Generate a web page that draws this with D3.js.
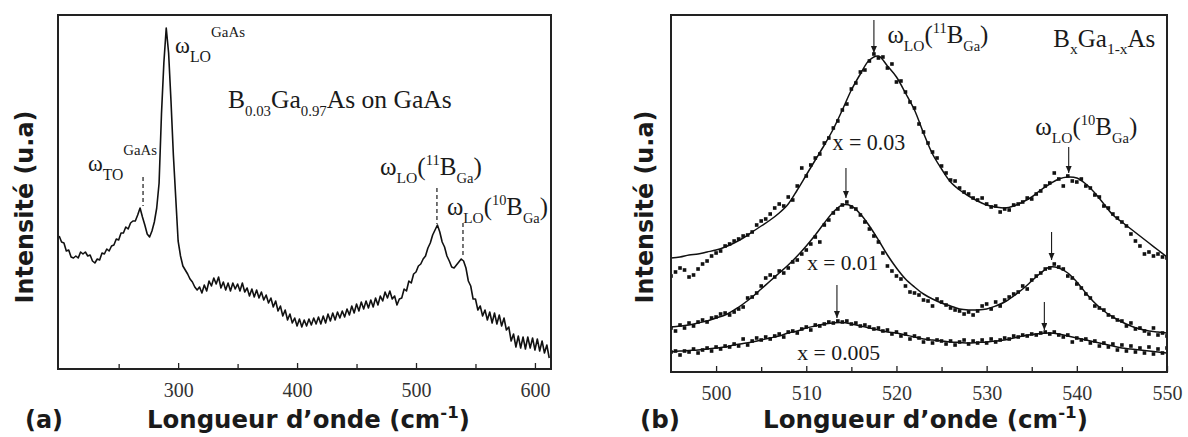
<!DOCTYPE html>
<html><head><meta charset="utf-8">
<script src="https://cdn.jsdelivr.net/npm/d3@7/dist/d3.min.js"></script>
<style>body{margin:0;background:#fff}</style>
</head><body><svg id="c" width="1188" height="437"></svg>
<script>
// ---------- DATA ----------
// Panel (a): Raman spectrum of B0.03Ga0.97As on GaAs, wavenumber grid 200..612 step 2
const specAStart = 200, specAStep = 2;
const specAIntensity = [
133,127,126,118,119,112,111,113,111,117,
115,117,113,114,108,106,110,109,116,115,
120,118,123,124,130,129,136,136,142,140,
146,148,148,154,161,152,144,135,132,138,
147,161,186,255,306,341,316,268,214,171,
128,113,103,99,95,90,87,82,79,82,
76,84,78,88,83,91,85,92,81,87,
79,86,78,86,80,85,78,86,77,81,
73,80,72,79,71,77,69,74,66,71,
62,68,58,63,53,59,49,55,46,51,
43,50,42,49,43,50,44,51,45,52,
45,53,46,55,48,56,49,57,51,58,
52,60,54,63,56,65,58,67,60,68,
61,69,62,71,64,73,68,77,71,78,
70,73,64,70,71,80,78,88,86,95,
97,103,105,110,113,121,126,134,139,144,
137,127,122,113,108,102,101,104,107,110,
108,101,88,83,70,70,59,63,53,59,
49,57,46,56,45,54,43,51,39,42,
28,35,22,33,21,32,20,32,21,31,
19,30,18,28,16,24,11
];
const ticksA = [300, 400, 500, 600];
const minorTicksA = [250, 350, 450, 550];

// Panel (b): measured points (grid 495..550 step 0.5) and fits (grid 495..550 step 1)
const dotsStart = 495, dotsStep = 0.5;
const dots003 = [
96,100,104,102,95,97,103,108,111,116,
119,121,126,128,131,133,136,137,140,147,
151,153,158,164,168,166,175,172,186,204,
196,207,214,218,229,234,244,251,262,268,
283,289,300,302,311,318,314,315,304,308,
290,291,280,270,264,248,240,229,220,214,
206,199,192,191,184,180,178,174,172,174,
168,165,166,160,163,162,167,168,170,174,
173,178,181,186,189,199,193,186,196,191,
190,193,186,184,177,175,166,164,158,154,
150,146,138,131,126,118,120,116,118,115,
114];
const dots001 = [
44,41,47,44,49,46,50,52,50,54,
55,58,59,57,60,63,65,74,75,79,
86,94,97,95,101,99,104,110,112,118,
122,128,135,130,147,152,159,163,167,170,
165,163,157,150,143,136,130,119,106,101,
96,93,86,80,79,77,72,71,66,73,
70,67,64,62,61,58,60,57,61,66,
68,63,70,66,72,75,78,80,86,83,
92,96,99,103,104,108,105,103,96,94,
88,84,78,74,66,64,62,57,55,52,
51,46,49,43,44,41,38,44,37,39,
36];
const dots0005 = [
20,21,17,21,20,23,19,22,24,21,
25,23,26,25,28,26,33,27,31,34,
32,35,33,36,38,35,40,41,39,43,
45,42,47,46,48,50,49,51,50,51,
48,49,46,47,45,43,44,41,42,38,
40,36,38,33,36,34,30,33,29,32,
31,28,31,27,30,32,28,31,29,32,
29,33,30,32,34,33,36,35,37,36,
38,37,39,40,38,40,37,35,37,30,
34,32,33,29,31,26,29,25,28,22,
27,21,26,20,24,19,25,18,23,19,
24];
const fitStart = 495, fitStep = 1;
const fit003 = [
114,115,117,118,120,122,125,129,134,140,
146,152,159,168,182,197,212,227,243,262,
282,298,312,316,306,295,279,262,239,218,
203,190,182,176,171,167,165,164,166,170,
175,182,188,193,195,194,188,179,168,157,
150,143,136,129,122,115];
const fit001 = [
45,46,47,49,51,54,57,62,68,75,
83,91,99,107,116,126,137,149,160,167,
166,158,146,132,117,104,93,85,78,73,
69,66,63,62,62,63,66,70,76,83,
91,99,105,104,99,90,79,69,61,55,
50,46,43,41,40,39];
const fit0005 = [
20,21,21.5,22,23,24,25,27,28.5,30,
32,34,36,39,41,44,46,48,49,49.5,
48,46,44,42,40,39,37,35,33,32,
31,30,29.5,29,29.5,30,31,32,34,36,
37.5,38.5,39,38,36,34,32,30,28,26,
24,23,22,21,20,19];
const ticksB = [500, 510, 520, 530, 540, 550];
const minorTicksB = [505, 515, 525, 535, 545];

// ---------- DRAW ----------
const svg = d3.select("#c");
const SERIF = "'Liberation Serif','Times New Roman',serif";
const SANS = "'DejaVu Sans',Verdana,sans-serif";
const INK = "#1a1a1a";

const defs = svg.append("defs");
defs.append("marker").attr("id", "ah").attr("markerUnits", "userSpaceOnUse")
  .attr("markerWidth", 8).attr("markerHeight", 8).attr("refX", 7).attr("refY", 3)
  .attr("orient", "auto")
  .append("path").attr("d", "M0,0L7,3L0,6Z").attr("fill", INK);

function richText(g, x, y, parts, size, opts) {
  const t = g.append("text").attr("x", x).attr("y", y)
    .attr("font-family", opts.family).attr("fill", opts.fill || INK);
  if (opts.weight) t.attr("font-weight", opts.weight);
  if (opts.anchor) t.attr("text-anchor", opts.anchor);
  function build(s) {
    t.selectAll("tspan").remove();
    t.attr("font-size", s);
    let cur = 0;
    parts.forEach(p => {
      const off = (p.dy || 0) * s;
      const ts = t.append("tspan").text(p.t).attr("dy", off - cur);
      if (p.scale) ts.attr("font-size", s * p.scale);
      cur = off;
    });
  }
  build(size);
  if (opts.width) {
    const w = t.node().getBBox().width;
    if (w > 0) build(size * opts.width / w);
  }
  return t;
}

function drawAxis(g, x, y, major, minor) {
  const h = y.range()[0];
  const ax = g.append("g").attr("transform", `translate(0,${h})`)
    .call(d3.axisBottom(x).tickValues(major).tickSize(-6).tickPadding(14).tickFormat(d3.format("d")));
  ax.select(".domain").remove();
  ax.selectAll("line").attr("stroke", "#222").attr("stroke-width", 1.3);
  ax.selectAll("text").attr("font-family", SERIF).attr("font-size", 20).attr("fill", "#333");
  const mx = g.append("g").attr("transform", `translate(0,${h})`)
    .call(d3.axisBottom(x).tickValues(minor).tickSize(-5).tickFormat(""));
  mx.select(".domain").remove();
  mx.selectAll("line").attr("stroke", "#222").attr("stroke-width", 1.3);
  const [x0, x1] = x.range(), [y0, y1] = y.range();
  g.append("rect").attr("x", x0).attr("y", y1).attr("width", x1 - x0).attr("height", y0 - y1)
    .attr("fill", "none").attr("stroke", "#222").attr("stroke-width", 2);
}

// ----- Panel (a)
const xA = d3.scaleLinear().domain([199, 613.5]).range([58, 551]);
const yA = d3.scaleLinear().domain([0, 354]).range([369, 15]);
const gA = svg.append("g");
const specA = specAIntensity.map((v, i) => ({x: specAStart + i * specAStep, y: v}));
gA.append("path").datum(specA)
  .attr("d", d3.line().x(d => xA(d.x)).y(d => yA(d.y)))
  .attr("fill", "none").attr("stroke", "#111").attr("stroke-width", 1.6).attr("stroke-linejoin", "round");
drawAxis(gA, xA, yA, ticksA, minorTicksA);

const dashA = [[270.5, 192, 163], [517.6, 181, 145], [539.5, 146, 112]];
dashA.forEach(([w, ya, yb]) => {
  gA.append("line").attr("x1", xA(w)).attr("x2", xA(w)).attr("y1", yA(ya)).attr("y2", yA(yb))
    .attr("stroke", INK).attr("stroke-width", 1.2).attr("stroke-dasharray", "4,3");
});

richText(gA, xA(297.4), yA(316), [{t: "ω"}, {t: "LO", dy: 0.42, scale: 0.7}, {t: "GaAs", dy: -0.72, scale: 0.66}], 21, {family: SERIF, width: 70});
richText(gA, xA(224.2), yA(198), [{t: "ω"}, {t: "TO", dy: 0.42, scale: 0.7}, {t: "GaAs", dy: -0.72, scale: 0.66}], 20, {family: SERIF, width: 69});
richText(gA, xA(341.9), yA(261), [{t: "B"}, {t: "0.03", dy: 0.3, scale: 0.58}, {t: "Ga", dy: 0}, {t: "0.97", dy: 0.3, scale: 0.58}, {t: "As on GaAs", dy: 0}], 23, {family: SERIF, width: 224});
const bParts11 = [{t: "ω"}, {t: "LO", dy: 0.32, scale: 0.62}, {t: "(", dy: 0}, {t: "11", dy: -0.4, scale: 0.58}, {t: "B", dy: 0}, {t: "Ga", dy: 0.32, scale: 0.58}, {t: ")", dy: 0}];
const bParts10 = [{t: "ω"}, {t: "LO", dy: 0.32, scale: 0.62}, {t: "(", dy: 0}, {t: "10", dy: -0.4, scale: 0.58}, {t: "B", dy: 0}, {t: "Ga", dy: 0.32, scale: 0.58}, {t: ")", dy: 0}];
richText(gA, xA(469.7), yA(194), bParts11, 24, {family: SERIF, width: 102});
richText(gA, xA(526), yA(154), bParts10, 24, {family: SERIF, width: 101});

// ----- Panel (b)
const xB = d3.scaleLinear().domain([495, 550]).range([671, 1167]);
const yB = d3.scaleLinear().domain([0, 357]).range([372, 15]);
const gB = svg.append("g");
const clip = defs.append("clipPath").attr("id", "clipB");
clip.append("rect").attr("x", 671).attr("y", 15).attr("width", 496).attr("height", 357);
const plotB = gB.append("g").attr("clip-path", "url(#clipB)");
const fitLine = d3.line().x(d => xB(d.x)).y(d => yB(d.y)).curve(d3.curveCatmullRom.alpha(0.5));
[fit003, fit001, fit0005].forEach(arr => {
  plotB.append("path").datum(arr.map((v, i) => ({x: fitStart + i * fitStep, y: v})))
    .attr("d", fitLine).attr("fill", "none").attr("stroke", "#111").attr("stroke-width", 1.5);
});
[dots003, dots001, dots0005].forEach(arr => {
  plotB.append("g").selectAll("rect").data(arr.map((v, i) => ({x: dotsStart + i * dotsStep, y: v})))
    .join("rect").attr("x", d => xB(d.x) - 1.8).attr("y", d => yB(d.y) - 1.8)
    .attr("width", 3.6).attr("height", 3.6).attr("fill", "#111");
});
drawAxis(gB, xB, yB, ticksB, minorTicksB);

const arrowsB = [[517.5, 352, 319], [539.1, 225, 199], [514.4, 204, 174], [537.2, 140, 112], [513.4, 87, 54], [536.4, 70, 42]];
arrowsB.forEach(([w, ya, yb]) => {
  gB.append("line").attr("x1", xB(w)).attr("x2", xB(w)).attr("y1", yB(ya)).attr("y2", yB(yb))
    .attr("stroke", INK).attr("stroke-width", 1.1).attr("marker-end", "url(#ah)");
});
richText(gB, xB(519.0), yB(329), bParts11, 24, {family: SERIF, width: 101});
richText(gB, xB(535.4), yB(237), bParts10, 24, {family: SERIF, width: 102});
richText(gB, xB(537.4), yB(325), [{t: "B"}, {t: "x", dy: 0.3, scale: 0.62}, {t: "Ga", dy: 0}, {t: "1-x", dy: 0.3, scale: 0.62}, {t: "As", dy: 0}], 24, {family: SERIF, width: 102});
richText(gB, xB(512.9), yB(222), [{t: "x = 0.03"}], 19, {family: SERIF, width: 73});
richText(gB, xB(510.1), yB(102), [{t: "x = 0.01"}], 19, {family: SERIF, width: 71});
richText(gB, xB(509.0), yB(12), [{t: "x = 0.005"}], 19, {family: SERIF, width: 83});

// ----- Axis titles and panel letters
const xTitle = [{t: "Longueur d’onde (cm"}, {t: "-1", dy: -0.42, scale: 0.68}, {t: ")", dy: 0}];
richText(svg, 147, 428, xTitle, 21, {family: SANS, weight: "bold", width: 323});
richText(svg, 763, 428, xTitle, 21, {family: SANS, weight: "bold", width: 325});
richText(svg, 25, 428, [{t: "(a)"}], 21, {family: SANS, weight: "bold", width: 38});
richText(svg, 640, 428, [{t: "(b)"}], 21, {family: SANS, weight: "bold", width: 40});
const yl1 = svg.append("g").attr("transform", "translate(33,207) rotate(-90)");
richText(yl1, 0, 0, [{t: "Intensité (u.a)"}], 20, {family: SANS, weight: "bold", anchor: "middle", width: 193});
const yl2 = svg.append("g").attr("transform", "translate(653,207) rotate(-90)");
richText(yl2, 0, 0, [{t: "Intensité (u.a)"}], 20, {family: SANS, weight: "bold", anchor: "middle", width: 193});
</script></body></html>
